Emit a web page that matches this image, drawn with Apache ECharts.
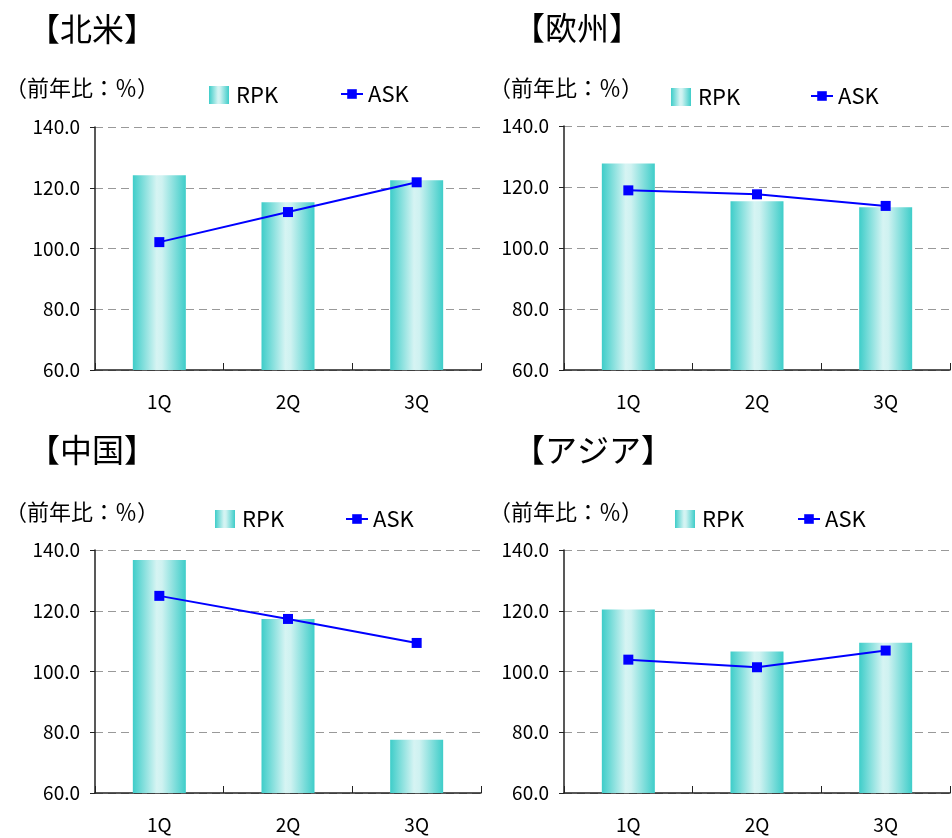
<!DOCTYPE html>
<html>
<head>
<meta charset="utf-8">
<script src="https://cdn.jsdelivr.net/npm/echarts@6/dist/echarts.min.js"></script>
<style>html,body{margin:0;padding:0;background:#fff;}#c{width:952px;height:838px;}</style>
</head>
<body>
<div id="c"></div>
<script>
const categories = ['1Q', '2Q', '3Q'];
const regionTitles = ['【北米】', '【欧州】', '【中国】', '【アジア】'];
const unitLabel = '（前年比：％）';
const naRPK = [124.1, 115.2, 122.5];
const naASK = [102.1, 112.0, 121.8];
const euRPK = [127.7, 115.3, 113.4];
const euASK = [118.9, 117.6, 113.8];
const cnRPK = [136.7, 117.3, 77.5];
const cnASK = [124.9, 117.3, 109.4];
const asRPK = [120.4, 106.6, 109.5];
const asASK = [103.9, 101.4, 106.9];
const yMin = 60, yMax = 140, yStep = 20;

const FONT = "'Noto Sans CJK JP', 'Noto Sans', sans-serif";
const rpkSets = [naRPK, euRPK, cnRPK, asRPK];
const askSets = [naASK, euASK, cnASK, asASK];

const grids = [
  {left: 95, top: 127, width: 386, height: 243},
  {left: 564, top: 126, width: 386, height: 244},
  {left: 95, top: 550, width: 386, height: 243},
  {left: 564, top: 550, width: 386, height: 243}
];
const titlePos = [[28, 29], [513, 28], [28, 450], [513, 450]];
const unitPos = [[5, 88], [489, 88], [5, 512], [489, 512]];
const rpkLegendPos = [[209, 84], [671, 86], [215, 508], [675, 508]];
const askLegendPos = [[340, 83], [810, 85], [345, 508], [797, 508]];

const barGrad = {
  type: 'linear', x: 0, y: 0, x2: 1, y2: 0,
  colorStops: [
    {offset: 0, color: '#3ECDC9'},
    {offset: 0.45, color: '#D6F4F3'},
    {offset: 0.55, color: '#CFF2F1'},
    {offset: 1, color: '#3ECDC9'}
  ]
};

const xAxes = [], yAxes = [], series = [], legends = [], graphics = [];
grids.forEach((g, i) => {
  xAxes.push({
    type: 'category', gridIndex: i, data: categories,
    axisLine: {lineStyle: {color: '#222', width: 1.5}},
    axisTick: {show: true, inside: true, length: 7, lineStyle: {color: '#222'}},
    axisLabel: {fontSize: 19, color: '#000', fontFamily: FONT, margin: 22}
  });
  yAxes.push({
    type: 'value', gridIndex: i, min: yMin, max: yMax, interval: yStep,
    axisLine: {show: true, lineStyle: {color: '#222', width: 1.5}},
    axisTick: {show: true, length: 5, lineStyle: {color: '#222'}},
    axisLabel: {fontSize: 19, color: '#000', fontFamily: FONT, margin: 15,
      formatter: v => v.toFixed(1)},
    splitLine: {show: true, lineStyle: {color: '#999', type: [8, 5], width: 1.2}}
  });
  series.push({
    name: 'RPK', type: 'bar', xAxisIndex: i, yAxisIndex: i,
    data: rpkSets[i], barWidth: 53,
    itemStyle: {color: barGrad},
    z: 2
  });
  series.push({
    name: 'ASK', type: 'line', xAxisIndex: i, yAxisIndex: i,
    data: askSets[i], symbol: 'rect', symbolSize: 10,
    lineStyle: {color: '#0000FF', width: 2},
    itemStyle: {color: '#0000FF'},
    z: 3
  });
  legends.push({
    data: ['RPK'], left: rpkLegendPos[i][0], top: rpkLegendPos[i][1],
    padding: 0, itemWidth: 20, itemHeight: 18, icon: 'rect', selectedMode: false,
    textStyle: {fontSize: 22, lineHeight: 18, color: '#000', fontFamily: FONT, padding: [0, 0, 0, 2]}
  });
  legends.push({
    data: ['ASK'], left: askLegendPos[i][0], top: askLegendPos[i][1],
    padding: 0, itemWidth: 22, itemHeight: 12, selectedMode: false,
    textStyle: {fontSize: 22, lineHeight: 18, color: '#000', fontFamily: FONT}
  });
  graphics.push({
    type: 'text', x: titlePos[i][0], y: titlePos[i][1],
    style: {text: regionTitles[i], fontSize: 32, fontWeight: 'normal', fontFamily: FONT,
      fill: '#000', verticalAlign: 'middle'}
  });
  graphics.push({
    type: 'text', x: unitPos[i][0], y: unitPos[i][1],
    style: {text: unitLabel, fontSize: 22, fontFamily: FONT,
      fill: '#000', verticalAlign: 'middle'}
  });
});

const chart = echarts.init(document.getElementById('c'));
chart.setOption({
  animation: false,
  backgroundColor: '#fff',
  grid: grids,
  xAxis: xAxes,
  yAxis: yAxes,
  legend: legends,
  series: series,
  graphic: graphics
});
</script>
</body>
</html>
